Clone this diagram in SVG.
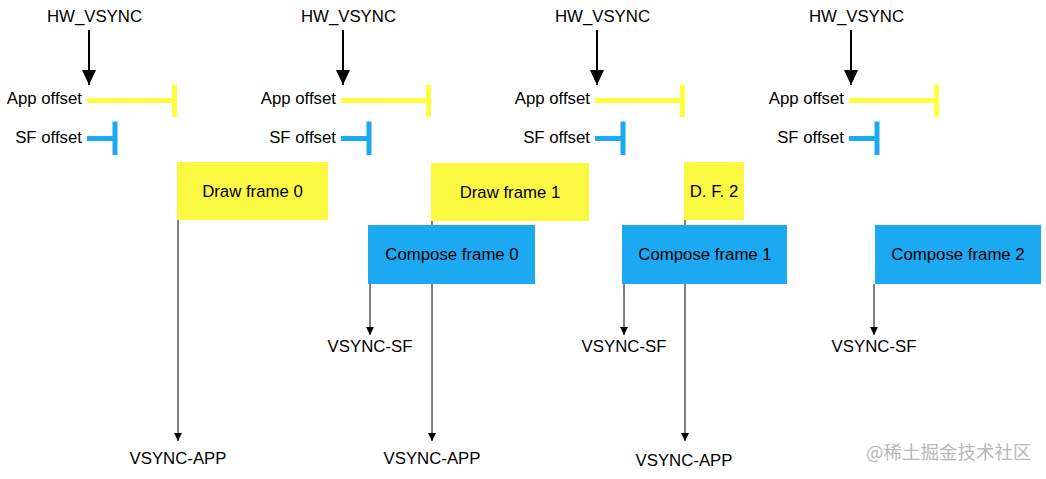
<svg xmlns="http://www.w3.org/2000/svg" width="1046" height="479" viewBox="0 0 1046 479">
<style>
text{font-family:"Liberation Sans",Arial,sans-serif;font-size:16.8px;fill:#000}
.r{text-anchor:end}
.c{text-anchor:middle}
.y{fill:#FBF842}
.b{fill:#1BA9F2}
.yl{stroke:#FFFF40;stroke-width:5;fill:none}
.bl{stroke:#1BA9F2;stroke-width:5;fill:none}
.hw{stroke:#000;stroke-width:2;fill:none}
.ln{stroke:#000;stroke-width:1;fill:none}
.wm{font-family:"Noto Sans CJK SC",sans-serif;font-size:18.5px;fill:#b8b8b8}
</style>
<defs>
<marker id="big" markerWidth="15" markerHeight="14" refX="15" refY="7" orient="auto" markerUnits="userSpaceOnUse"><path d="M0,0 L15,7 L0,14 Z" fill="#000"/></marker>
<marker id="sm" markerWidth="8" markerHeight="8" refX="8" refY="4" orient="auto" markerUnits="userSpaceOnUse"><path d="M0,0 L8,4 L0,8 Z" fill="#000"/></marker>
</defs>

<g id="col1">
<text class="c" x="94.5" y="22">HW_VSYNC</text>
<text class="r" x="82" y="104">App offset</text>
<text class="r" x="82" y="143">SF offset</text>
</g>
<g id="col2">
<text class="c" x="348.5" y="22">HW_VSYNC</text>
<text class="r" x="336" y="104">App offset</text>
<text class="r" x="336" y="143">SF offset</text>
</g>
<g id="col3">
<text class="c" x="602.5" y="22">HW_VSYNC</text>
<text class="r" x="590" y="104">App offset</text>
<text class="r" x="590" y="143">SF offset</text>
</g>
<g id="col4">
<text class="c" x="856.5" y="22">HW_VSYNC</text>
<text class="r" x="844" y="104">App offset</text>
<text class="r" x="844" y="143">SF offset</text>
</g>

<g id="offsets">
<path class="yl" d="M87,100.5 H174.5 M174.5,84.5 V117"/>
<path class="bl" d="M87,138.5 H115 M115,121.5 V155"/>
<path class="yl" d="M341,100.5 H428.5 M428.5,84.5 V117"/>
<path class="bl" d="M341,138.5 H369 M369,121.5 V155"/>
<path class="yl" d="M595,100.5 H682.5 M682.5,84.5 V117"/>
<path class="bl" d="M595,138.5 H623 M623,121.5 V155"/>
<path class="yl" d="M849,100.5 H936.5 M936.5,84.5 V117"/>
<path class="bl" d="M849,138.5 H877 M877,121.5 V155"/>
</g>

<g id="draw0"><rect class="y" x="177" y="162" width="151" height="58"/><text class="c" x="252.5" y="197">Draw frame 0</text></g>
<g id="draw1"><rect class="y" x="431" y="163" width="158" height="58"/><text class="c" x="510" y="198">Draw frame 1</text></g>
<g id="df2"><rect class="y" x="684" y="162" width="60" height="58"/><text class="c" x="714" y="197">D. F. 2</text></g>
<g id="compose0"><rect class="b" x="368" y="225" width="167" height="59"/><text class="c" x="452" y="260">Compose frame 0</text></g>
<g id="compose1"><rect class="b" x="622" y="225" width="165" height="59"/><text class="c" x="705" y="260">Compose frame 1</text></g>
<g id="compose2"><rect class="b" x="875" y="225" width="166" height="59"/><text class="c" x="958" y="260">Compose frame 2</text></g>

<g id="labels">
<text class="c" x="370" y="352">VSYNC-SF</text>
<text class="c" x="624" y="352">VSYNC-SF</text>
<text class="c" x="874" y="352">VSYNC-SF</text>
<text class="c" x="178" y="464">VSYNC-APP</text>
<text class="c" x="432" y="464">VSYNC-APP</text>
<text class="c" x="684" y="466">VSYNC-APP</text>
</g>

<g id="connectors">
<line class="hw" x1="89" y1="30" x2="89" y2="85" marker-end="url(#big)"/>
<line class="hw" x1="343" y1="30" x2="343" y2="85" marker-end="url(#big)"/>
<line class="hw" x1="597" y1="30" x2="597" y2="85" marker-end="url(#big)"/>
<line class="hw" x1="851" y1="30" x2="851" y2="85" marker-end="url(#big)"/>
<line class="ln" x1="178" y1="220" x2="178" y2="441" marker-end="url(#sm)"/>
<line class="ln" x1="432" y1="221" x2="432" y2="225"/>
<line class="ln" x1="432" y1="284" x2="432" y2="441" marker-end="url(#sm)"/>
<line class="ln" x1="685" y1="220" x2="685" y2="225"/>
<line class="ln" x1="685" y1="284" x2="685" y2="441" marker-end="url(#sm)"/>
<line class="ln" x1="370" y1="284" x2="370" y2="335" marker-end="url(#sm)"/>
<line class="ln" x1="624" y1="284" x2="624" y2="335" marker-end="url(#sm)"/>
<line class="ln" x1="874" y1="284" x2="874" y2="335" marker-end="url(#sm)"/>
</g>

<text class="wm" x="866" y="459">@稀土掘金技术社区</text>
</svg>
